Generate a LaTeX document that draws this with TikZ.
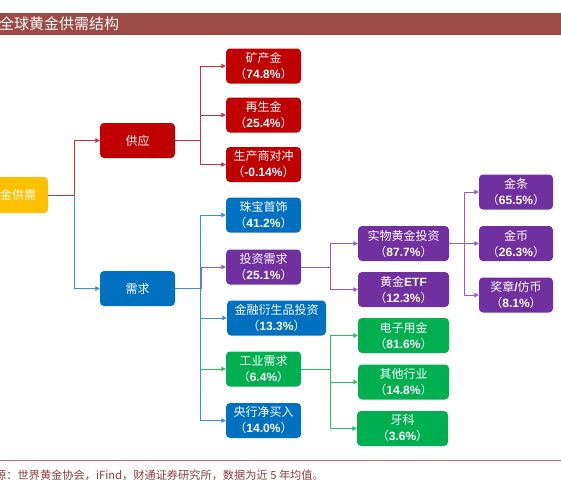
\documentclass[tikz,border=0pt]{standalone}
\usepackage{fontspec}
\setmainfont{Liberation Sans}
\newfontfamily\cjk{Noto Sans CJK SC}
\usetikzlibrary{arrows.meta, positioning}

\definecolor{titlered}{HTML}{9C4A45}
\definecolor{supplyred}{HTML}{C00000}
\definecolor{demandblue}{HTML}{0070C0}
\definecolor{investpurple}{HTML}{7030A0}
\definecolor{industrygreen}{HTML}{00B050}
\definecolor{rootyellow}{HTML}{FFC000}
\definecolor{bluelink}{HTML}{3A8FD8}
\definecolor{purplelink}{HTML}{9A5CC4}
\definecolor{redlink}{HTML}{C8343A}
\definecolor{greenlink}{HTML}{2DBE64}
\definecolor{footline}{HTML}{C0706C}
\definecolor{foottext}{HTML}{8E3B3B}

\newcommand{\pct}[1]{{\cjk （}\textbf{#1\%}{\cjk ）}}

\tikzset{
  box/.style={rounded corners=4pt, minimum width=75pt, minimum height=35pt,
    inner sep=0pt, align=center, text=white, font=\fontsize{12}{16}\selectfont},
  supplybox/.style={box, fill=supplyred},
  demandbox/.style={box, fill=demandblue},
  investbox/.style={box, fill=investpurple},
  industrybox/.style={box, fill=industrygreen},
  widebox/.style={minimum width=91pt},
  link/.style={line width=0.9pt, -{Triangle[length=4.5pt,width=4.5pt]}},
  plain/.style={line width=0.9pt},
}

\begin{document}
\begin{tikzpicture}[x=1pt, y=-1pt]
	\useasboundingbox (0,0) rectangle (561,485);

	% Title bar
	\fill[titlered] (0,13) rectangle (561,35);
	\node[anchor=west, inner sep=0pt, text=white, font=\cjk\fontsize{15}{15}\selectfont] (title) at (-1,24) {全球黄金供需结构};

	% Root
	\node[box, fill=rootyellow, minimum width=72pt, minimum height=36pt] (root) at (12,195) {\cjk 黄金供需};

	% Supply side
	\node[supplybox] (supply) at (137.5,140.5) {\cjk 供应};
	\node[supplybox] (mine) at (263.5,66) {\cjk 矿产金\\\pct{74.8}};
	\node[supplybox] (recycle) at (263.5,115) {\cjk 再生金\\\pct{25.4}};
	\node[supplybox] (hedge) at (263.5,164.5) {\cjk 生产商对冲\\\pct{-0.14}};

	% Demand side
	\node[demandbox] (demand) at (137.5,288.5) {\cjk 需求};
	\node[demandbox] (jewel) at (263.5,215) {\cjk 珠宝首饰\\\pct{41.2}};
	\node[investbox] (invest) at (263.5,267) {\cjk 投资需求\\\pct{25.1}};
	\node[demandbox, minimum width=99pt] (deriv) at (276.5,318) {\cjk 金融衍生品投资\\\pct{13.3}};
	\node[industrybox] (industry) at (263.5,369) {\cjk 工业需求\\\pct{6.4}};
	\node[demandbox] (central) at (263.5,420.5) {\cjk 央行净买入\\\pct{14.0}};

	% Investment
	\node[investbox, widebox] (physical) at (403.5,243.5) {\cjk 实物黄金投资\\\pct{87.7}};
	\node[investbox, widebox] (etf) at (403.5,289.5) {{\cjk 黄金}\textbf{ETF}\\\pct{12.3}};
	\node[investbox, minimum width=74pt] (bar) at (516,192) {\cjk 金条\\\pct{65.5}};
	\node[investbox, minimum width=74pt] (coin) at (516,243.5) {\cjk 金币\\\pct{26.3}};
	\node[investbox, minimum width=74pt] (medal) at (516,295) {{\cjk 奖章}\textbf{/}{\cjk 仿币}\\\pct{8.1}};

	% Industry
	\node[industrybox, widebox] (electronic) at (403.5,335.5) {\cjk 电子用金\\\pct{81.6}};
	\node[industrybox, widebox] (otherind) at (403.5,382) {\cjk 其他行业\\\pct{14.8}};
	\node[industrybox, widebox] (dental) at (402.5,428.5) {\cjk 牙科\\\pct{3.6}};

	% Joints
	\coordinate (rj) at (74,195);
	\coordinate (sj) at (200,140.5);
	\coordinate (dj) at (200,288.5);
	\coordinate (ij) at (330,267);
	\coordinate (pj) at (464,243.5);
	\coordinate (gj) at (330,369);

	% Root connectors
	\draw[link, redlink] (root.east) -- (rj) |- (supply.west);
	\draw[link, bluelink] (rj) |- (demand.west);

	% Supply connectors
	\draw[plain, redlink] (supply.east) -- (sj);
	\foreach \n in {mine, recycle, hedge}
		\draw[link, redlink] (sj) |- (\n.west);

	% Demand connectors
	\draw[plain, bluelink] (demand.east) -- (dj);
	\foreach \n in {jewel, deriv, central}
		\draw[link, bluelink] (dj) |- (\n.west);
	\draw[link, purplelink] ([xshift=1.5pt]dj) |- (invest.west);
	\draw[link, greenlink] (dj |- industry.west) -- (industry.west);

	% Investment connectors
	\draw[plain, purplelink] (invest.east) -- (ij);
	\foreach \n in {physical, etf}
		\draw[link, purplelink] (ij) |- (\n.west);
	\draw[plain, purplelink] (physical.east) -- (pj);
	\foreach \n in {bar, coin, medal}
		\draw[link, purplelink] (pj) |- (\n.west);

	% Industry connectors
	\draw[plain, greenlink] (industry.east) -- (gj);
	\foreach \n in {electronic, otherind, dental}
		\draw[link, greenlink] (gj) |- (\n.west);

	% Footer
	\coordinate (fl) at (0,460);
	\coordinate (fr) at (561,460);
	\draw[footline, line width=0.8pt] (fl) -- (fr);
	\node[anchor=base east, inner sep=0pt, text=foottext, font=\cjk\fontsize{11.2}{11.2}\selectfont] (source) at (324,479) {资料来源：世界黄金协会，iFind，财通证券研究所，数据为近 5 年均值。};
\end{tikzpicture}
\end{document}
